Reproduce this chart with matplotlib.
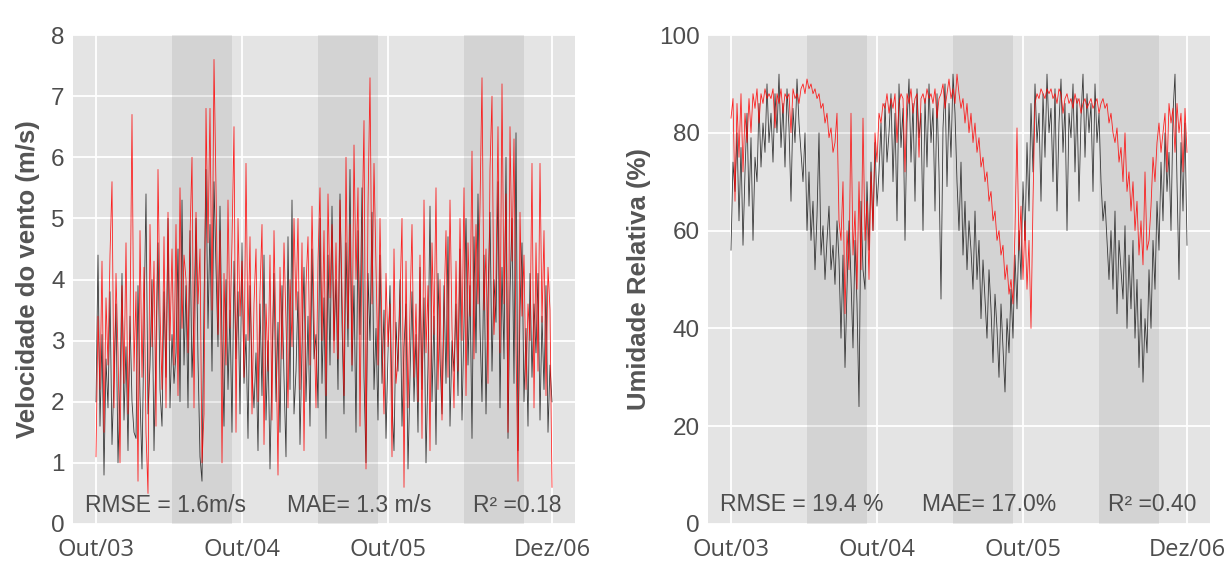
import numpy as np
import matplotlib
matplotlib.use('Agg')
import matplotlib.pyplot as plt
import matplotlib.transforms as mtransforms

# Daily series sampled every 5 days, day 0 = 1 Oct 2003
step_days = 5

# Wind speed (m/s): observed (black) and model (red)
wind_obs = [
    2.0, 4.4, 1.6, 3.1, 0.8, 2.7, 1.9, 3.8, 1.3, 2.4, 3.6, 1.0, 2.2, 4.1, 1.7, 2.9, 1.2, 3.4, 2.0, 1.5,
    1.4, 3.9, 2.1, 0.9, 3.3, 5.4, 1.8, 2.6, 4.0, 1.2, 2.9, 4.6, 2.2, 1.6, 3.8, 2.4, 5.0, 1.9, 3.1, 2.3,
    2.8, 4.5, 2.0, 5.3, 2.6, 3.9, 1.9, 4.8, 2.4, 3.4, 5.0, 2.7, 1.1, 0.7, 3.6, 5.8, 3.2, 4.9, 2.5, 5.6,
    4.2, 2.9, 5.2, 3.0, 1.6, 4.0, 2.2, 3.5, 1.5, 4.3, 2.7, 3.8, 1.8, 4.6, 2.3, 3.1, 1.4, 3.9, 2.5, 1.9,
    2.8, 1.2, 3.6, 2.1, 4.4, 1.7, 3.0, 0.9, 2.6, 4.1, 2.0, 3.3, 1.5, 3.9, 2.4, 1.1, 4.7, 2.2, 5.3, 1.8,
    2.5, 3.8, 1.3, 2.9, 4.2, 2.0, 3.4, 1.6, 4.5, 2.7, 3.1, 1.9, 5.0, 2.3, 3.7, 1.4, 4.4, 2.6, 5.2, 3.0,
    4.0, 2.2, 5.4, 3.3, 1.8, 4.6, 2.9, 5.8, 2.5, 3.9, 1.5, 4.8, 3.1, 5.5, 2.4, 1.0, 4.1, 3.0, 5.1, 2.2,
    3.2, 1.7, 4.4, 2.3, 3.5, 1.4, 2.8, 3.9, 2.0, 1.2, 3.3, 2.5, 4.0, 1.6, 2.9, 3.6, 0.9, 2.4, 3.8, 2.0,
    3.1, 1.5, 4.2, 2.2, 3.7, 1.0, 2.6, 5.2, 2.0, 3.4, 1.3, 4.1, 2.7, 1.8, 3.9, 2.3, 4.7, 1.6, 3.0, 2.5,
    3.6, 2.1, 4.5, 1.7, 3.3, 5.0, 2.6, 3.9, 1.4, 4.7, 2.8, 5.4, 3.2, 2.0, 4.4, 1.8, 3.7, 5.1, 2.5, 4.0,
    3.3, 5.6, 1.9, 4.2, 2.7, 6.0, 1.4, 3.8, 5.0, 2.3, 6.4, 1.2, 3.5, 4.6, 2.0, 3.2, 1.6, 4.1, 2.4, 3.6,
    2.8, 4.1, 1.7, 3.4, 2.2, 3.9, 1.5, 2.6, 2.0,
]
wind_model = [
    1.1, 3.4, 2.2, 4.3, 1.5, 3.7, 2.6, 4.4, 5.6, 1.9, 4.1, 2.8, 1.0, 3.9, 2.3, 4.6, 1.8, 3.2, 6.7, 2.5,
    3.8, 0.7, 4.8, 2.4, 4.2, 1.5, 0.5, 4.9, 2.9, 4.3, 1.6, 5.8, 3.5, 2.2, 4.7, 1.9, 5.1, 3.0, 4.5, 2.6,
    4.9, 2.1, 5.5, 3.2, 4.4, 4.0, 2.8, 4.7, 6.0, 1.9, 5.1, 3.6, 4.5, 1.0, 1.8, 6.8, 4.6, 6.8, 3.5, 7.6,
    5.5, 3.1, 4.8, 1.0, 4.1, 2.6, 5.3, 3.2, 4.6, 6.5, 1.5, 5.0, 3.4, 4.3, 2.4, 5.9, 3.0, 4.7, 1.8, 3.6,
    4.5, 2.0, 3.8, 4.9, 1.3, 3.6, 2.5, 4.4, 1.7, 4.8, 3.0, 0.8, 4.2, 2.7, 4.6, 3.3, 1.9, 4.0, 2.9, 5.0,
    3.5, 5.0, 2.2, 4.6, 1.2, 3.9, 4.7, 2.6, 5.2, 3.4, 1.9, 4.3, 5.5, 3.0, 4.8, 2.1, 5.4, 3.7, 4.9, 2.8,
    4.6, 2.7, 5.3, 3.8, 2.1, 6.0, 3.2, 4.9, 2.6, 6.2, 4.0, 5.5, 1.6, 4.7, 6.6, 0.9, 5.2, 7.3, 3.6, 5.9,
    4.2, 2.6, 5.0, 3.1, 1.8, 4.1, 2.9, 3.6, 1.1, 4.5, 2.3, 2.7, 3.7, 5.0, 0.6, 4.3, 1.9, 3.5, 4.9, 2.4,
    3.6, 2.0, 4.4, 1.4, 5.3, 2.8, 3.9, 1.2, 4.6, 3.1, 5.5, 2.2, 4.0, 1.7, 3.5, 4.8, 2.4, 5.3, 3.2, 1.9,
    4.3, 2.5, 5.0, 3.0, 5.5, 2.1, 4.6, 3.4, 6.1, 2.7, 4.9, 3.6, 5.2, 7.3, 3.5, 4.5, 2.3, 5.8, 7.0, 3.1,
    4.0, 6.5, 2.8, 7.2, 3.6, 5.4, 1.5, 6.5, 4.3, 6.3, 2.9, 0.7, 5.1, 3.4, 4.4, 2.2, 3.6, 3.0, 5.9, 1.9,
    4.6, 2.5, 5.9, 3.3, 4.8, 2.1, 4.2, 3.5, 0.6,
]

# Relative humidity (%): observed (black) and model (red)
rh_obs = [
    56, 74, 68, 80, 62, 77, 57, 72, 84, 65, 79, 58, 75, 70, 86, 73, 82, 76, 90, 78,
    84, 74, 88, 80, 92, 77, 86, 73, 89, 81, 66, 85, 78, 91, 82, 76, 70, 80, 60, 72,
    58, 66, 52, 63, 80, 55, 61, 50, 58, 65, 52, 57, 49, 62, 54, 38, 55, 32, 48, 62,
    50, 36, 58, 45, 24, 66, 52, 48, 70, 56, 74, 60, 78, 65, 72, 82, 68, 86, 74, 80,
    88, 70, 84, 62, 90, 77, 85, 58, 82, 91, 74, 86, 66, 89, 79, 84, 60, 87, 73, 90,
    78, 85, 64, 88, 72, 46, 81, 90, 69, 86, 75, 92, 84, 70, 60, 74, 55, 66, 52, 62,
    56, 48, 64, 50, 58, 42, 54, 46, 38, 52, 44, 33, 47, 40, 30, 45, 36, 27, 42, 35,
    48, 38, 55, 44, 60, 50, 70, 58, 78, 64, 86, 72, 90, 78, 84, 66, 88, 75, 92, 80,
    85, 70, 89, 64, 82, 91, 76, 86, 60, 84, 79, 90, 72, 87, 66, 83, 92, 75, 88, 80,
    86, 68, 90, 78, 84, 70, 62, 66, 58, 50, 60, 48, 64, 43, 58, 52, 46, 61, 40, 55,
    44, 58, 38, 50, 32, 46, 29, 42, 35, 52, 40, 58, 48, 66, 56, 74, 62, 80, 68, 76,
    60, 84, 92, 70, 50, 78, 64, 82, 57,
]
rh_model = [
    83, 87, 66, 86, 75, 88, 72, 84, 78, 87, 80, 88, 85, 89, 82, 88, 86, 89, 87, 88,
    87, 89, 81, 88, 86, 89, 84, 88, 87, 88, 80, 89, 87, 88, 86, 89, 90, 88, 91, 89,
    90, 88, 89, 87, 88, 85, 86, 82, 84, 79, 81, 76, 78, 84, 62, 58, 70, 43, 60, 52,
    84, 55, 64, 48, 70, 52, 83, 58, 66, 50, 72, 60, 80, 74, 84, 82, 86, 85, 88, 84,
    87, 85, 88, 78, 86, 88, 87, 72, 88, 86, 89, 84, 87, 88, 75, 87, 88, 86, 89, 87,
    88, 86, 89, 83, 87, 88, 90, 85, 88, 91, 87, 89, 86, 92, 88, 85, 87, 82, 86, 80,
    84, 78, 82, 76, 79, 73, 75, 70, 72, 66, 68, 62, 64, 58, 60, 55, 57, 50, 53, 47,
    50, 45, 60, 81, 56, 65, 50, 62, 48, 58, 40, 66, 86, 88, 87, 89, 88, 87, 89, 88,
    89, 87, 88, 86, 89, 88, 84, 87, 88, 86, 87, 85, 88, 86, 87, 84, 86, 87, 85, 86,
    87, 85, 86, 87, 84, 86, 87, 85, 86, 82, 84, 80, 78, 81, 74, 77, 70, 80, 68, 72,
    64, 70, 60, 66, 55, 62, 53, 72, 56, 58, 65, 75, 70, 78, 82, 76, 80, 84, 72, 86,
    82, 85, 76, 86, 80, 84, 72, 85, 76,
]

# Dry season bands (days since 1 Oct 2003)
band_start = [190, 555, 920]
band_end = [340, 705, 1070]

tick_days = [0, 366, 731, 1141]
tick_labels = ['Out/03', 'Out/04', 'Out/05', 'Dez/06']

wind_stats = ['RMSE = 1.6m/s', 'MAE= 1.3 m/s', 'R² =0.18']
rh_stats = ['RMSE = 19.4 %', 'MAE= 17.0%', 'R² =0.40']
stats_days = [-27, 478, 942]

text_color = '#4d4d4d'


def style_axes(ax, ylim, yticks, ylabel, stats, stats_y):
    ax.set_facecolor('#e4e4e4')
    for s in ax.spines.values():
        s.set_visible(False)
    ax.set_xlim(-57.5, 1197.5)
    ax.set_ylim(*ylim)
    ax.set_yticks(yticks)
    ax.set_xticks(tick_days)
    ax.set_xticklabels(tick_labels, fontfamily='Open Sans', fontsize=17, color=text_color)
    # labels sit a bit left of their grid line in the original
    offset = mtransforms.ScaledTranslation(-6 / 100, 0, ax.figure.dpi_scale_trans)
    for lab in ax.get_xticklabels():
        lab.set_transform(lab.get_transform() + offset)
    ax.tick_params(axis='x', length=0, pad=10)
    ax.tick_params(axis='y', length=0, pad=6, labelsize=17.5, labelcolor=text_color)
    for lab in ax.get_yticklabels():
        lab.set_fontfamily('Liberation Sans')
    ax.grid(True, color='white', linewidth=1.3)
    ax.set_axisbelow(True)
    for a, b in zip(band_start, band_end):
        ax.axvspan(a, b, color='black', alpha=0.075, lw=0, zorder=1)
    ax.set_ylabel(ylabel, fontsize=18.5, fontweight='bold', color='#555555',
                  fontfamily='Liberation Sans')
    for txt, d in zip(stats, stats_days):
        ax.text(d, stats_y, txt, fontsize=16.5, color=text_color, va='center',
                fontfamily='Liberation Sans', zorder=5)


def plot_panel(ax, obs, model):
    days = np.arange(len(obs)) * step_days
    ax.plot(days, obs, color='#1a1a1a', linewidth=0.6, alpha=0.85, zorder=2)
    ax.plot(days, model, color='#ff0000', linewidth=0.6, alpha=0.85, zorder=3)


assert len(wind_obs) == len(wind_model) == len(rh_obs) == len(rh_model) == 229

fig = plt.figure(figsize=(12.27, 5.62), dpi=100)
ax1 = fig.add_axes([73 / 1227, 38 / 562, 502 / 1227, 489 / 562])
ax2 = fig.add_axes([708 / 1227, 38 / 562, 502 / 1227, 489 / 562])

plot_panel(ax1, wind_obs, wind_model)
style_axes(ax1, (0, 8), range(0, 9), 'Velocidade do vento (m/s)', wind_stats, 0.3)
ax1.yaxis.set_label_coords(-0.066, 0.5)

plot_panel(ax2, rh_obs, rh_model)
style_axes(ax2, (0, 100), range(0, 101, 20), 'Umidade Relativa (%)', rh_stats, 3.9)
ax2.yaxis.set_label_coords(-0.113, 0.5)

fig.savefig('out.png', dpi=100, facecolor='white')
